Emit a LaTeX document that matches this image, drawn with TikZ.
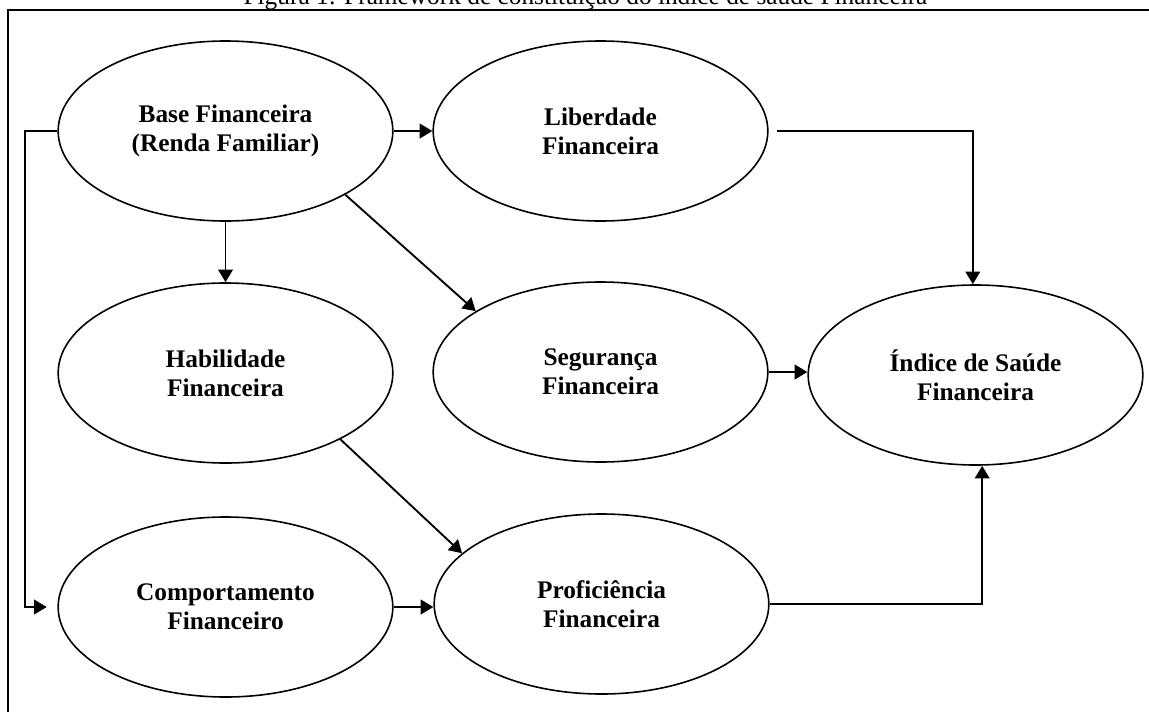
\documentclass[tikz,border=0pt]{standalone}
\usepackage{fontspec}
\setmainfont{Liberation Serif}
\usepackage{tikz}
\usetikzlibrary{arrows.meta,calc,positioning,shapes.geometric}

\begin{document}
\begin{tikzpicture}[x=0.75pt,y=-0.75pt,
  fator/.style={draw,ellipse,line width=1.2pt,minimum width=251pt,minimum height=135pt,inner sep=0pt,align=center,font=\fontsize{19}{21.8}\selectfont\bfseries},
  seta/.style={line width=1.4pt,-{Triangle[length=9.5pt,width=11pt]}}]
\useasboundingbox (0,0) rectangle (1149,711);
\node[anchor=base,font=\fontsize{19}{22}\selectfont] (titulo) at (585.5,4) {Figura 1: Framework de constituição do índice de saúde Financeira};
\draw[line width=1.5pt] (8,740) |- (1180,10);

\node[fator] (base) at (225.5,131) {Base Financeira\\(Renda Familiar)};
\node[fator] (liberdade) at (600.5,131) {Liberdade\\Financeira};
\node[fator] (habilidade) at (225.5,373) {Habilidade\\Financeira};
\node[fator] (seguranca) at (600.5,372) {Segurança\\Financeira};
\node[fator] (indice) at (975.5,375) {Índice de Saúde\\Financeira};
\node[fator] (comportamento) at (225.5,607) {Comportamento\\Financeiro};
\node[fator] (proficiencia) at (601.5,604) {Proficiência\\Financeira};

\draw[seta] (base.east) -- (liberdade.west);
\draw[seta] (base.south) -- (habilidade.north);
\draw[seta] (base.-28) -- (seguranca.154);
\draw[seta] (habilidade.-30) -- (proficiencia.160);
\draw[seta] (comportamento.east) -- (comportamento.east -| proficiencia.west);
\draw[seta] (seguranca.east) -- (seguranca.east -| indice.west);
\draw[seta] ([xshift=6pt]liberdade.east) -| ([xshift=-2pt]indice.north);
\draw[seta] (proficiencia.east) -| ([xshift=5pt]indice.south);
\draw[seta,shorten >=8pt] (base.west) -- ++(-32,0) |- (comportamento.west);
\end{tikzpicture}
\end{document}
